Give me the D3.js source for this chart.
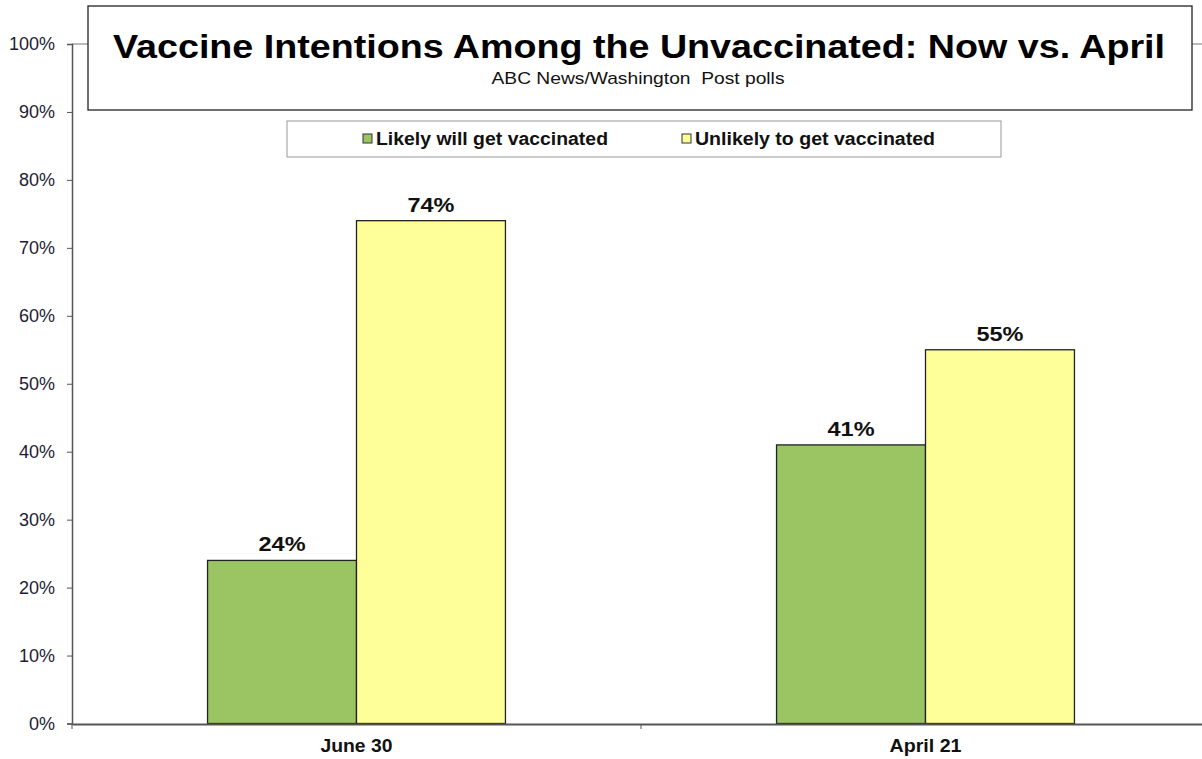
<!DOCTYPE html>
<html>
<head>
<meta charset="utf-8">
<script src="https://cdn.jsdelivr.net/npm/d3@7"></script>
<style>
  html, body { margin: 0; padding: 0; background: #fff; }
  svg { display: block; }
  text { font-family: "Liberation Sans", Arial, sans-serif; }
</style>
</head>
<body>
<svg id="chart" width="1202" height="759"></svg>
<script>
// Poll dates and responses
const categories = ["June 30", "April 21"];
const seriesNames = ["Likely will get vaccinated", "Unlikely to get vaccinated"];
const likelyValues = [24, 41];
const unlikelyValues = [74, 55];
const yTicks = [0, 10, 20, 30, 40, 50, 60, 70, 80, 90, 100];
const seriesColors = ["#9BC563", "#FFFF99"];

const svg = d3.select("#chart");
const margin = { left: 72, right: -8, top: 44, bottom: 35 };
const W = 1202, H = 759;
const plotBottom = H - margin.bottom;

// two category bands; each band holds the pair of bars centred with wide outer gaps
const x = d3.scaleBand().domain(categories).range([margin.left, W - margin.right]).padding(0);
const xInner = d3.scaleBand().domain(seriesNames).range([0, x.bandwidth()])
  .paddingInner(0).paddingOuter(0.91);
const y = d3.scaleLinear().domain([0, 100]).range([plotBottom - 0.5, margin.top]);

// line at the top of the value range
svg.append("line")
  .attr("x1", margin.left).attr("x2", W)
  .attr("y1", y(100)).attr("y2", y(100))
  .attr("stroke", "#777").attr("stroke-width", 1);

// y axis
const yAxis = d3.axisLeft(y).tickValues(yTicks).tickFormat(d => d + "%").tickSize(5).tickPadding(12);
const gy = svg.append("g").attr("transform", `translate(${margin.left},0)`).call(yAxis);
gy.select(".domain").attr("stroke", "#555").attr("stroke-width", 1.5);
gy.selectAll(".tick line").attr("stroke", "#555");
gy.selectAll(".tick text").attr("font-size", 18).attr("fill", "#1c1c34")
  .style("font-family", "'Liberation Sans', Arial, sans-serif");

// bars
const rows = categories.map((c, i) => ({ cat: c, vals: [likelyValues[i], unlikelyValues[i]] }));
const groups = svg.append("g").selectAll("g").data(rows).join("g")
  .attr("transform", d => `translate(${x(d.cat)},0)`);
const cells = d => d.vals.map((v, j) => ({ name: seriesNames[j], v, j }));
groups.selectAll("rect").data(cells)
  .join("rect")
  .attr("x", d => xInner(d.name))
  .attr("width", xInner.bandwidth())
  .attr("y", d => y(d.v))
  .attr("height", d => y(0) - y(d.v))
  .attr("fill", d => seriesColors[d.j])
  .attr("stroke", "#222").attr("stroke-width", 1.3);

// value labels
groups.selectAll("text.val").data(cells)
  .join("text").attr("class", "val")
  .attr("x", d => xInner(d.name) + xInner.bandwidth() / 2)
  .attr("y", d => y(d.v) - 9)
  .attr("text-anchor", "middle")
  .attr("font-size", 21).attr("font-weight", "bold").attr("fill", "#111")
  .attr("textLength", 47).attr("lengthAdjust", "spacingAndGlyphs")
  .text(d => d.v + "%");

// x axis
const xAxis = d3.axisBottom(x).tickSize(0).tickFormat("");
const gx = svg.append("g").attr("transform", `translate(0,${plotBottom})`).call(xAxis);
gx.select(".domain").attr("stroke", "#555").attr("stroke-width", 2);
// ticks at category boundaries
svg.append("g").selectAll("line").data(categories).join("line")
  .attr("x1", d => x(d)).attr("x2", d => x(d))
  .attr("y1", plotBottom).attr("y2", plotBottom + 5)
  .attr("stroke", "#555").attr("stroke-width", 1);
svg.append("g").selectAll("text").data(categories).join("text")
  .attr("x", d => x(d) + x.bandwidth() / 2)
  .attr("y", plotBottom + 28)
  .attr("text-anchor", "middle")
  .attr("font-size", 18).attr("font-weight", "bold").attr("fill", "#111")
  .attr("textLength", 72).attr("lengthAdjust", "spacingAndGlyphs")
  .text(d => d);

// title box
svg.append("rect").attr("x", 88).attr("y", 6).attr("width", 1104).attr("height", 104)
  .attr("fill", "#fff").attr("stroke", "#222").attr("stroke-width", 1.3);
svg.append("text").attr("x", 639).attr("y", 58).attr("text-anchor", "middle")
  .attr("font-size", 34).attr("font-weight", "bold").attr("fill", "#000")
  .attr("textLength", 1052).attr("lengthAdjust", "spacingAndGlyphs")
  .text("Vaccine Intentions Among the Unvaccinated: Now vs. April");
svg.append("text").attr("x", 638).attr("y", 84).attr("text-anchor", "middle")
  .attr("font-size", 17).attr("fill", "#111")
  .attr("textLength", 293).attr("lengthAdjust", "spacingAndGlyphs")
  .style("white-space", "pre")
  .text("ABC News/Washington  Post polls");

// legend
svg.append("rect").attr("x", 287).attr("y", 121).attr("width", 714).attr("height", 36)
  .attr("fill", "#fff").attr("stroke", "#999").attr("stroke-width", 1);
const legendX = [363, 682];
const legendLen = [232, 240];
const lg = svg.append("g").selectAll("g").data(seriesNames).join("g")
  .attr("transform", (d, i) => `translate(${legendX[i]},134)`);
lg.append("rect").attr("width", 9).attr("height", 9)
  .attr("fill", (d, i) => seriesColors[i]).attr("stroke", "#333").attr("stroke-width", 1);
lg.append("text").attr("x", 13).attr("y", 11)
  .attr("font-size", 18).attr("font-weight", "bold").attr("fill", "#111")
  .attr("textLength", (d, i) => legendLen[i]).attr("lengthAdjust", "spacingAndGlyphs")
  .text(d => d);
</script>
</body>
</html>
